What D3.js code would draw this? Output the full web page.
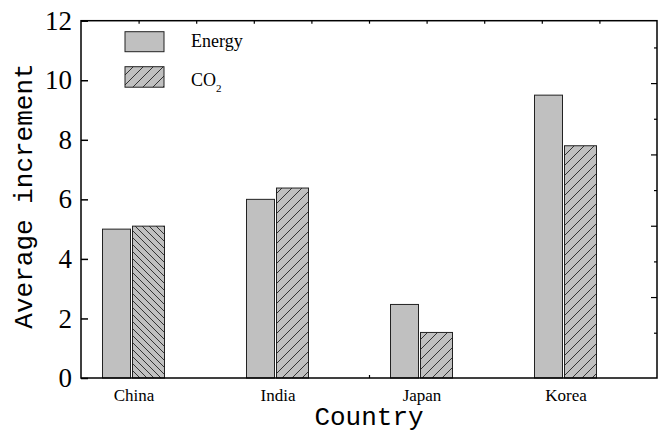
<!DOCTYPE html>
<html><head><meta charset="utf-8">
<script src="https://cdn.jsdelivr.net/npm/d3@7"></script>
<style>body{margin:0;background:#fff}</style>
</head><body>
<svg id="chart" width="667" height="436"></svg>
<script>
// ---- data ----
const categories = ["China", "India", "Japan", "Korea"];
const energyValues = [5.0, 6.0, 2.47, 9.5];
const co2Values = [5.1, 6.38, 1.53, 7.8];
const yTicks = [0, 2, 4, 6, 8, 10, 12];
const seriesNames = ["Energy", "CO"];

// ---- layout ----
const W = 667, H = 436;
const L = 81, R = 657, T = 20.7, B = 378;
const svg = d3.select("#chart").attr("width", W).attr("height", H);
const defs = svg.append("defs");
const serif = "'Liberation Serif','Times New Roman',serif";
const mono = "'Liberation Mono','DejaVu Sans Mono',monospace";

function hatch(id, size, forward) {
  const p = defs.append("pattern").attr("id", id)
    .attr("patternUnits", "userSpaceOnUse").attr("width", size).attr("height", size);
  p.append("rect").attr("width", size).attr("height", size).attr("fill", "#c0c0c0");
  const s = size;
  const d = forward
    ? `M${-s},${s} L${s},${-s} M0,${s} L${s},0 M0,${2*s} L${2*s},0`
    : `M0,0 L${s},${s} M${-s},0 L${s},${2*s} M0,${-s} L${2*s},${s}`;
  p.append("path").attr("d", d).attr("stroke", "#222").attr("stroke-width", 0.9).attr("fill", "none");
}
hatch("hF", 10, true);
hatch("hB", 7, false);
const co2Hatch = ["hB", "hF", "hF", "hF"];

const y = d3.scaleLinear().domain([0, 12]).range([B, T]);
const x = d3.scalePoint().domain(categories).range([L + 52.5, R - 91.5]);

// bars
const g = svg.append("g");
g.selectAll("rect.energy").data(energyValues).join("rect").attr("class", "energy")
  .attr("x", (d, i) => x(categories[i]) - 31).attr("width", 28)
  .attr("y", d => y(d)).attr("height", d => y(0) - y(d))
  .attr("fill", "#c0c0c0").attr("stroke", "#222").attr("stroke-width", 1);
g.selectAll("rect.co2").data(co2Values).join("rect").attr("class", "co2")
  .attr("x", (d, i) => x(categories[i]) - 1).attr("width", 32)
  .attr("y", d => y(d)).attr("height", d => y(0) - y(d))
  .attr("fill", (d, i) => `url(#${co2Hatch[i]})`).attr("stroke", "#222").attr("stroke-width", 1);

// frame
svg.append("rect").attr("x", L).attr("y", T).attr("width", R - L).attr("height", B - T)
  .attr("fill", "none").attr("stroke", "#000").attr("stroke-width", 1.5);

// left axis
const ya = svg.append("g").attr("transform", `translate(${L},0)`)
  .call(d3.axisLeft(y).tickValues(yTicks).tickSize(-7).tickPadding(9).tickFormat(d3.format("d")));
ya.select(".domain").remove();
ya.selectAll("line").attr("stroke", "#000").attr("stroke-width", 1.5);
ya.selectAll("text").attr("font-family", serif).attr("font-size", 27).attr("fill", "#000");

// bottom category labels
const xa = svg.append("g").attr("transform", `translate(0,${B})`)
  .call(d3.axisBottom(x).tickSize(0).tickPadding(11));
xa.select(".domain").remove();
xa.selectAll("text").attr("font-family", serif).attr("font-size", 17).attr("fill", "#000");

// frame minor ticks
const xf = d3.scaleLinear().domain([0, 10]).range([L, R]);
const topAx = svg.append("g").attr("transform", `translate(0,${T})`)
  .call(d3.axisTop(xf).tickValues(d3.range(1, 10)).tickSize(-3).tickFormat(""));
topAx.select(".domain").remove();
topAx.selectAll("line").attr("stroke", "#000").attr("stroke-width", 1.2);

const botAx = svg.append("g").attr("transform", `translate(0,${B})`)
  .call(d3.axisBottom(xf).tickValues([5]).tickSize(-3).tickFormat(""));
botAx.select(".domain").remove();
botAx.selectAll("line").attr("stroke", "#000").attr("stroke-width", 1.2);

const yr = d3.scaleLinear().domain([-0.27, 9.75]).range([B, T]);
const rtAx = svg.append("g").attr("transform", `translate(${R},0)`)
  .call(d3.axisRight(yr).tickValues(d3.range(1, 10)).tickSize(-6).tickFormat(""));
rtAx.select(".domain").remove();
rtAx.selectAll("line").attr("x2", d => d % 2 === 0 ? -6 : -3).attr("stroke", "#000").attr("stroke-width", 1.2);

// legend
const lg = svg.append("g");
lg.append("rect").attr("x", 125).attr("y", 31.7).attr("width", 39).attr("height", 20)
  .attr("fill", "#c0c0c0").attr("stroke", "#222").attr("stroke-width", 1);
lg.append("rect").attr("x", 125).attr("y", 66.7).attr("width", 39).attr("height", 20.5)
  .attr("fill", "url(#hF)").attr("stroke", "#222").attr("stroke-width", 1);
lg.append("text").attr("x", 191).attr("y", 46.5).attr("font-family", serif).attr("font-size", 18)
  .text(seriesNames[0]);
const co = lg.append("text").attr("x", 191).attr("y", 85.5).attr("font-family", serif).attr("font-size", 18)
  .text(seriesNames[1]);
co.append("tspan").attr("font-size", 11).attr("dy", 6).text("2");

// axis titles
svg.append("text").attr("x", (L + R) / 2).attr("y", 425).attr("text-anchor", "middle")
  .attr("font-family", mono).attr("font-size", 26).text("Country");
svg.append("text").attr("transform", "translate(32,196) rotate(-90)").attr("text-anchor", "middle")
  .attr("font-family", mono).attr("font-size", 26).text("Average increment");
</script>
</body></html>
